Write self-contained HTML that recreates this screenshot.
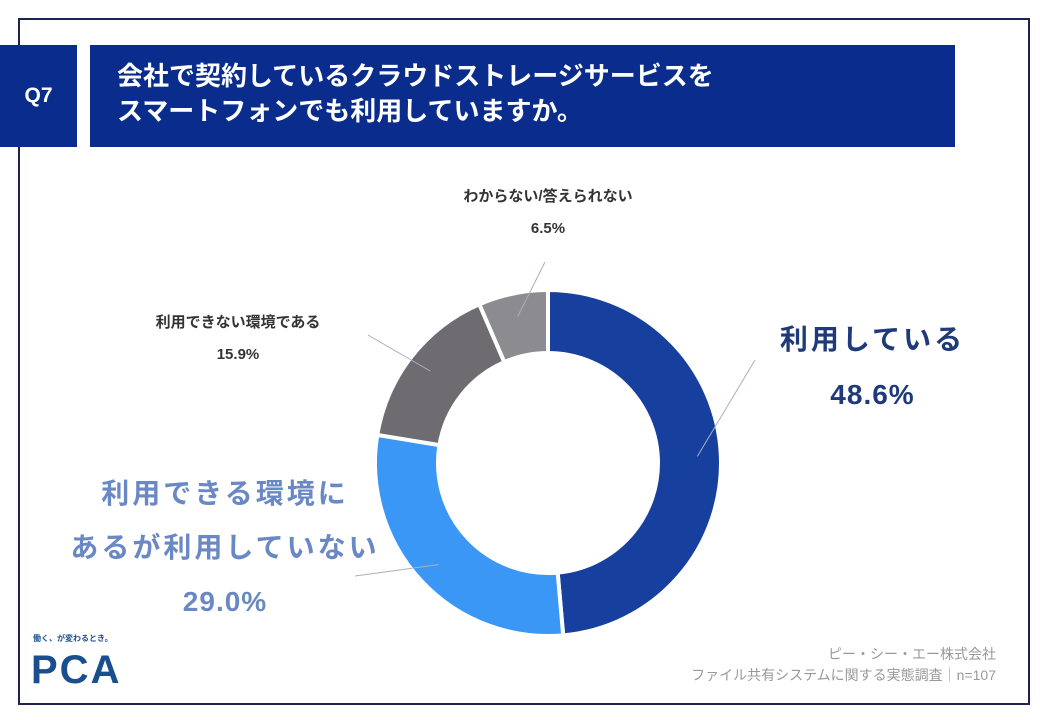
<!DOCTYPE html>
<html><head><meta charset="utf-8">
<style>
body{margin:0;width:1040px;height:720px;background:#fff;overflow:hidden;font-family:"Liberation Sans","Noto Sans CJK JP",sans-serif;}
.abs{position:absolute;}
</style></head>
<body>
<div class="abs" style="left:18px;top:18px;width:1008px;height:683px;border:2px solid #1c2350;"></div>
<div class="abs" style="left:0;top:45px;width:77px;height:102px;background:#0a2c8c;color:#fff;font-weight:bold;font-size:21px;display:flex;align-items:center;justify-content:center;">Q7</div>
<div class="abs" style="left:90px;top:45px;width:865px;height:102px;background:#0a2c8c;color:#fff;font-weight:bold;font-size:26px;line-height:35px;box-sizing:border-box;padding:14px 0 0 27px;">会社で契約しているクラウドストレージサービスを<br>スマートフォンでも利用していますか。</div>
<svg class="abs" style="left:0;top:0" width="1040" height="720">
<g id="slices"></g>
<g id="leaders" stroke="#aab0c0" stroke-width="1" fill="none"></g>
</svg>
<div class="abs" style="left:740px;top:312px;width:265px;text-align:center;color:#1f3a7a;font-weight:bold;font-size:28px;letter-spacing:3px;line-height:55px;">利用している<br><span style="letter-spacing:1px">48.6%</span></div>
<div class="abs" style="left:50px;top:467px;width:350px;text-align:center;color:#6a88c4;font-weight:bold;font-size:28px;letter-spacing:3px;line-height:54px;">利用できる環境に<br>あるが利用していない<br><span style="letter-spacing:1px">29.0%</span></div>
<div class="abs" style="left:118px;top:307px;width:240px;text-align:center;color:#333;font-weight:bold;font-size:15px;line-height:32px;">利用できない環境である<br>15.9%</div>
<div class="abs" style="left:418px;top:181px;width:260px;text-align:center;color:#333;font-weight:bold;font-size:15px;line-height:32px;">わからない/答えられない<br>6.5%</div>
<div class="abs" style="left:33px;top:633px;font-size:8px;font-weight:bold;color:#1a4f8f;">働く、が変わるとき。</div>
<div class="abs" style="left:31px;top:648px;font-size:40px;font-weight:bold;color:#1a4f8f;letter-spacing:2px;">PCA</div>
<div class="abs" style="right:44px;top:644px;text-align:right;color:#999;font-size:14px;line-height:21px;">ピー・シー・エー株式会社<br>ファイル共有システムに関する実態調査｜n=107</div>
<script>
const categories=["利用している","利用できる環境にあるが利用していない","利用できない環境である","わからない/答えられない"];
const values=[48.6,29.0,15.9,6.5];
const colors=["#173f9e","#3a97f5","#6e6c70","#8c8b90"];
const cx=548,cy=463,R=173,r=110;
const total=values.reduce((a,b)=>a+b,0);
const g=document.getElementById('slices');
const lg=document.getElementById('leaders');
function pt(a,rad){return [cx+rad*Math.sin(a),cy-rad*Math.cos(a)];}
let acc=0;
const leaderEnds=[[755,360],[355,576],[368,335],[545,262]];
values.forEach((v,i)=>{
  const a0=acc/total*2*Math.PI,a1=(acc+v)/total*2*Math.PI;acc+=v;
  const large=(a1-a0)>Math.PI?1:0;
  const p0=pt(a0,R),p1=pt(a1,R),q1=pt(a1,r),q0=pt(a0,r);
  const p=document.createElementNS('http://www.w3.org/2000/svg','path');
  p.setAttribute('d',`M${p0[0]},${p0[1]}A${R},${R} 0 ${large} 1 ${p1[0]},${p1[1]}L${q1[0]},${q1[1]}A${r},${r} 0 ${large} 0 ${q0[0]},${q0[1]}Z`);
  p.setAttribute('fill',colors[i]);p.setAttribute('stroke','#fff');p.setAttribute('stroke-width','4');
  
  
  g.appendChild(p);
  const m=(a0+a1)/2,s=pt(m,(R+r)/2+8);
  const l=document.createElementNS('http://www.w3.org/2000/svg','line');
  l.setAttribute('x1',s[0]);l.setAttribute('y1',s[1]);l.setAttribute('x2',leaderEnds[i][0]);l.setAttribute('y2',leaderEnds[i][1]);
  
  
  lg.appendChild(l);
});
</script>
</body></html>
